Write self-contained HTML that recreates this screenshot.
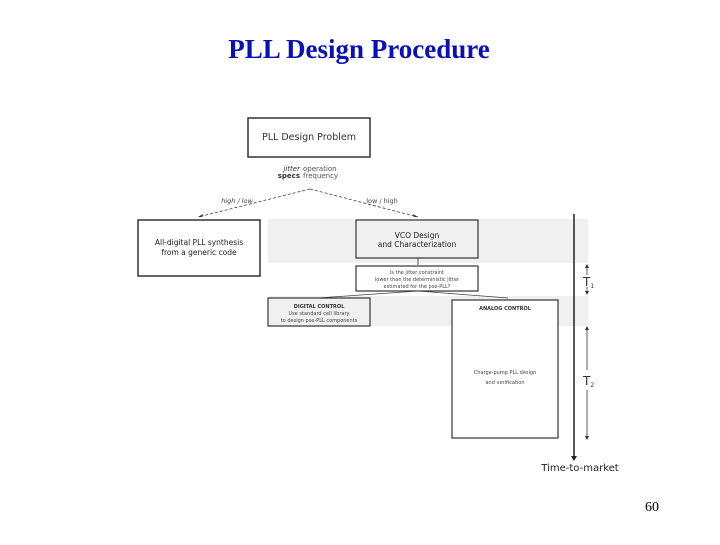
<!DOCTYPE html>
<html><head><style>
body{margin:0;width:720px;height:540px;background:#fff;overflow:hidden}
</style></head><body>
<svg width="720" height="540" xmlns="http://www.w3.org/2000/svg" font-family="'DejaVu Sans','Liberation Sans',sans-serif">
<text x="359" y="58" text-anchor="middle" font-family="'Liberation Serif',serif" font-weight="bold" font-size="27" fill="#0a10b8">PLL Design Procedure</text>
<rect x="268" y="219" width="320" height="44" fill="#f0f0f0"/>
<rect x="268" y="296" width="320" height="30" fill="#f0f0f0"/>
<rect x="248" y="118" width="122" height="39" fill="#fff" stroke="#333" stroke-width="1.5"/>
<text x="309" y="140" text-anchor="middle" font-size="9.5" fill="#333">PLL Design Problem</text>
<text x="300" y="171" text-anchor="end" font-size="7" font-style="italic" fill="#333">jitter</text>
<text x="300" y="178" text-anchor="end" font-size="7" font-weight="bold" fill="#333">specs</text>
<text x="303" y="171" font-size="7" fill="#555">operation</text>
<text x="303" y="178" font-size="7" fill="#555">frequency</text>
<g stroke="#444" stroke-width="0.8" stroke-dasharray="3,2" fill="none">
<line x1="310" y1="189" x2="198" y2="217"/><line x1="310" y1="189" x2="418" y2="217"/>
</g>
<path d="M198 217 l5 -3 l-1 3z M418 217 l-5 -3 l1 3z" fill="#333"/>
<text x="237" y="203" text-anchor="middle" font-size="6.5" font-style="italic" fill="#444">high / low</text>
<text x="382" y="203" text-anchor="middle" font-size="6.5" fill="#444">low / high</text>
<rect x="138" y="220" width="122" height="56" fill="#fff" stroke="#333" stroke-width="1.5"/>
<text x="199" y="245" text-anchor="middle" font-size="7.5" fill="#222">All-digital PLL synthesis</text>
<text x="199" y="255" text-anchor="middle" font-size="7.5" fill="#222">from a generic code</text>
<rect x="356" y="220" width="122" height="38" fill="#f0f0f0" stroke="#333" stroke-width="1.2"/>
<text x="417" y="238" text-anchor="middle" font-size="7.5" fill="#222">VCO Design</text>
<text x="417" y="247" text-anchor="middle" font-size="7.5" fill="#222">and Characterization</text>
<line x1="418" y1="258" x2="418" y2="265" stroke="#333" stroke-width="0.8"/>
<rect x="356" y="266" width="122" height="25" fill="#fff" stroke="#333" stroke-width="1.2"/>
<text x="417" y="274" text-anchor="middle" font-size="5" fill="#444">Is the jitter constraint</text>
<text x="417" y="281" text-anchor="middle" font-size="5" fill="#444">lower than the deterministic jitter</text>
<text x="417" y="288" text-anchor="middle" font-size="5" fill="#444">estimated for the pse-PLL?</text>
<g stroke="#444" stroke-width="0.8" fill="none"><line x1="418" y1="291" x2="318" y2="298"/><line x1="418" y1="291" x2="508" y2="298"/></g>
<rect x="268" y="298" width="102" height="28" fill="#f0f0f0" stroke="#333" stroke-width="1.2"/>
<text x="319" y="308" text-anchor="middle" font-size="5" font-weight="bold" fill="#333">DIGITAL CONTROL</text>
<text x="319" y="315" text-anchor="middle" font-size="5" fill="#444">Use standard cell library</text>
<text x="319" y="322" text-anchor="middle" font-size="5" fill="#444">to design pse-PLL components</text>
<rect x="452" y="300" width="106" height="138" fill="#fff" stroke="#333" stroke-width="1.2"/>
<text x="505" y="310" text-anchor="middle" font-size="5" font-weight="bold" fill="#333">ANALOG CONTROL</text>
<text x="505" y="374" text-anchor="middle" font-size="5" fill="#444">Charge-pump PLL design</text>
<text x="505" y="384" text-anchor="middle" font-size="5" fill="#444">and verification</text>
<line x1="574" y1="214" x2="574" y2="458" stroke="#222" stroke-width="1.5"/>
<path d="M571 456 l3 5 l3 -5z" fill="#222"/>
<g stroke="#333" stroke-width="0.8"><line x1="587" y1="267" x2="587" y2="275"/><line x1="587" y1="287" x2="587" y2="292"/><line x1="587" y1="329" x2="587" y2="370"/><line x1="587" y1="390" x2="587" y2="437"/></g>
<path d="M585 268 l2 -4 l2 4z M585 291 l2 4 l2 -4z M585 330 l2 -4 l2 4z M585 436 l2 4 l2 -4z" fill="#333"/>
<text x="583" y="286" font-size="12" fill="#333">T<tspan font-size="6" dy="2">1</tspan></text>
<text x="583" y="385" font-size="12" fill="#333">T<tspan font-size="6" dy="2">2</tspan></text>
<text x="580" y="471" text-anchor="middle" font-size="10" fill="#222">Time-to-market</text>
<text x="652" y="511" text-anchor="middle" font-family="'Liberation Serif',serif" font-size="14" fill="#000">60</text>
</svg>
</body></html>
